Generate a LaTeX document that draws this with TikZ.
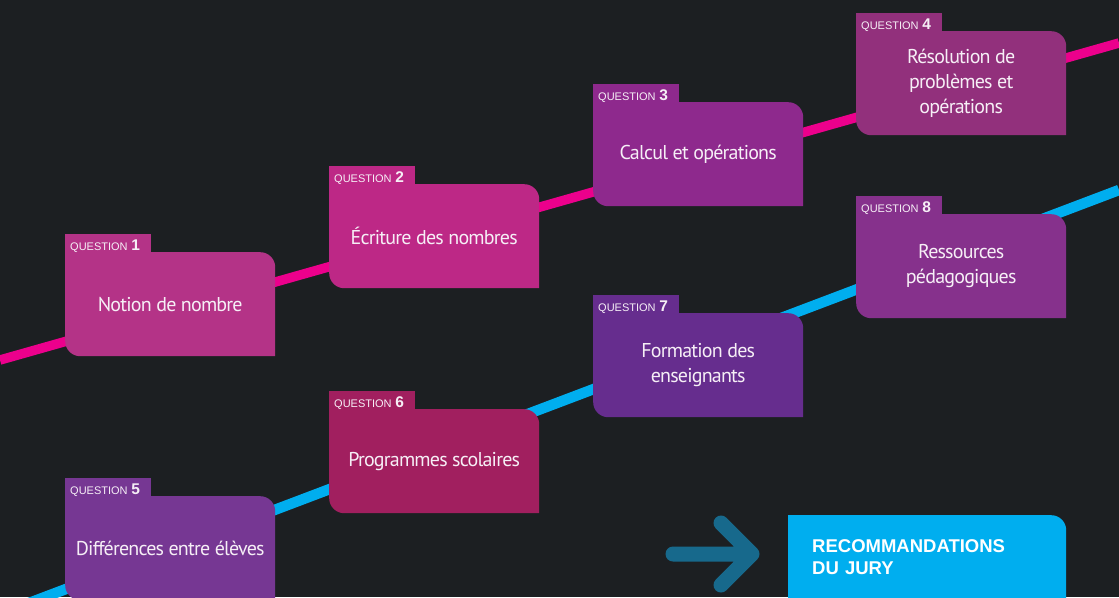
\documentclass[tikz,border=0pt]{standalone}
\usepackage{fontspec}
\newfontfamily\boxfont[LetterSpace=-4]{PT Sans}
\newfontfamily\labelfont{Liberation Sans}
\usetikzlibrary{positioning}

\definecolor{bgcol}{HTML}{1C1F22}
\definecolor{pinkline}{HTML}{EC008C}
\definecolor{blueline}{HTML}{00AEEF}
\definecolor{arrowcol}{HTML}{17698C}
\definecolor{boxtext}{HTML}{F6EFF6}
\definecolor{qcolA}{HTML}{B43387}
\definecolor{qcolB}{HTML}{BD2886}
\definecolor{qcolC}{HTML}{8E298D}
\definecolor{qcolD}{HTML}{92307C}
\definecolor{qcolE}{HTML}{763793}
\definecolor{qcolF}{HTML}{A11F5F}
\definecolor{qcolG}{HTML}{662D8E}
\definecolor{qcolH}{HTML}{86318C}

\tikzset{
  qbox/.style={minimum width=210pt, minimum height=104pt, inner sep=0pt,
    align=center, text=boxtext, font=\boxfont\fontsize{20}{25}\selectfont,
    path picture={\fill[#1] (path picture bounding box.north west)
      -- ([xshift=-15pt]path picture bounding box.north east)
      arc[start angle=90, end angle=0, radius=15pt]
      -- (path picture bounding box.south east)
      -- ([xshift=15pt]path picture bounding box.south west)
      arc[start angle=270, end angle=180, radius=15pt] -- cycle;}},
  qtab/.style={fill=#1, text=boxtext, text width=76pt, inner xsep=5pt,
    inner ysep=1.5pt, text height=14.5pt, text depth=0pt, align=left,
    font=\labelfont\fontsize{11}{11}\selectfont},
  recbox/.style={text width=230pt, inner xsep=24pt, inner ysep=24pt,
    text depth=45pt, align=left, text=white,
    font=\labelfont\bfseries\fontsize{18.5}{22}\selectfont,
    path picture={\fill[blueline] (path picture bounding box.north west)
      -- ([xshift=-15pt]path picture bounding box.north east)
      arc[start angle=90, end angle=0, radius=15pt]
      -- (path picture bounding box.south east)
      -- (path picture bounding box.south west) -- cycle;}},
}

\begin{document}
\begin{tikzpicture}[x=1pt, y=-1pt]
    \clip (0,0) rectangle (1119,597);
    \fill[bgcol] (0,0) rectangle (1119,597);

    % the two lines behind the boxes
    \coordinate (p0) at (0,360);
    \coordinate (p1) at (1119,43);
    \coordinate (b0) at (0,614);
    \coordinate (b1) at (1119,190);
    \draw[pinkline, line width=9.5pt] (p0) -- (p1);
    \draw[blueline, line width=10.5pt] (b0) -- (b1);

    % top row
    \node[qbox=qcolA, anchor=north west] (q1) at (65,252) {Notion de nombre};
    \node[qbox=qcolB, anchor=north west] (q2) at (329,184) {\'Ecriture des nombres};
    \node[qbox=qcolC, anchor=north west] (q3) at (593,102) {Calcul et op\'erations};
    \node[qbox=qcolD, anchor=north west] (q4) at (856,31) {R\'esolution de\\probl\`emes et\\op\'erations};

    % bottom row
    \node[qbox=qcolE, anchor=north west] (q5) at (65,496) {Diff\'erences entre \'el\`eves};
    \node[qbox=qcolF, anchor=north west] (q6) at (329,409) {Programmes scolaires};
    \node[qbox=qcolG, anchor=north west] (q7) at (593,313) {Formation des\\enseignants};
    \node[qbox=qcolH, anchor=north west] (q8) at (856,214) {Ressources\\p\'edagogiques};

    % tabs
    \node[qtab=qcolA, above right=0pt of q1.north west] (t1) {QUESTION {\fontsize{15.5}{15.5}\selectfont\bfseries 1}};
    \node[qtab=qcolB, above right=0pt of q2.north west] (t2) {QUESTION {\fontsize{15.5}{15.5}\selectfont\bfseries 2}};
    \node[qtab=qcolC, above right=0pt of q3.north west] (t3) {QUESTION {\fontsize{15.5}{15.5}\selectfont\bfseries 3}};
    \node[qtab=qcolD, above right=0pt of q4.north west] (t4) {QUESTION {\fontsize{15.5}{15.5}\selectfont\bfseries 4}};
    \node[qtab=qcolE, above right=0pt of q5.north west] (t5) {QUESTION {\fontsize{15.5}{15.5}\selectfont\bfseries 5}};
    \node[qtab=qcolF, above right=0pt of q6.north west] (t6) {QUESTION {\fontsize{15.5}{15.5}\selectfont\bfseries 6}};
    \node[qtab=qcolG, above right=0pt of q7.north west] (t7) {QUESTION {\fontsize{15.5}{15.5}\selectfont\bfseries 7}};
    \node[qtab=qcolH, above right=0pt of q8.north west] (t8) {QUESTION {\fontsize{15.5}{15.5}\selectfont\bfseries 8}};

    % recommendations
    \node[recbox, anchor=north west] (rec) at (788,515) {RECOMMANDATIONS\\DU JURY};
    \coordinate (a0) at (673,554);
    \coordinate (a1) at (752,554);
    \coordinate (a2) at (721,523);
    \coordinate (a3) at (721,585);
    \draw[arrowcol, line width=15pt, line cap=round, line join=round]
        (a0) -- (a1) (a2) -- (a1) -- (a3);
\end{tikzpicture}
\end{document}
